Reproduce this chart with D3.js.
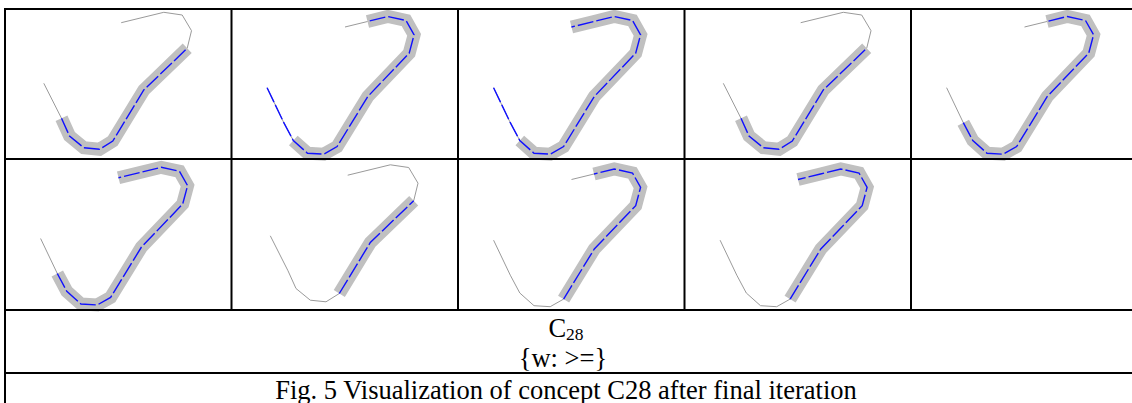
<!DOCTYPE html>
<html>
<head>
<meta charset="utf-8">
<script src="https://cdn.jsdelivr.net/npm/d3@7"></script>
<style>
  body { margin: 0; background: #fff; }
</style>
</head>
<body>
<div id="figure"></div>
<script>
// two curve shapes, points in cell units (a cell is 226.5 x 150)
var curveA = [
  [38.8, 74.3], [56.5, 109.3], [64.5, 127], [78.8, 138.7], [94.5, 140.3],
  [107.8, 132], [138.8, 81], [182.2, 39.3], [186.5, 21.7], [177.2, 6],
  [158.8, 3.3], [116.2, 13.7]
];
var curveB = [
  [35.6, 78.7], [52.3, 113.7], [61.8, 131.5], [76, 144.2], [92.2, 145.2],
  [105.6, 137.6], [136.3, 87.5], [177.7, 44.2], [182.6, 25.8], [174.5, 11.5],
  [156.3, 7.5], [136, 12.5], [113.5, 18]
];

// one entry per cell, row by row (last cell is empty)
var cellCurve = ["A", "B", "B", "A", "B", "B", "A", "B", "B", null];
var bandFrom  = [1, 2, 2, 1, 1, 1, 5, 5, 5, null];
var bandTo    = [7, 11, 12, 7, 11, 12, 7, 11, 12, null];
var blueFrom  = [1, 0, 0, 1, 1, 1, 5, 5, 5, null];
var blueTo    = [7, 11, 12, 7, 11, 12, 7, 11, 12, null];

var conceptName = "C";
var conceptSub = "28";
var conceptRule = "{w: >=}";
var captionText = "Fig. 5 Visualization of concept C28 after final iteration";

// layout
var svgWidth = 1132;
var svgHeight = 403;
var cellW = 226.5, cellH = 150;
var tableLeft = 5;
var rowLines = [9, 159, 310, 373, 420];
var cellShift = [0, 0, 0, 0, 0, 0.8, 2.5, 2.5, 2.5, 0];

var svg = d3.select("#figure")
  .append("svg")
  .attr("width", svgWidth)
  .attr("height", svgHeight);

var colScale = d3.scaleLinear()
  .domain([0, 5])
  .range([tableLeft, tableLeft + 5 * cellW]);

var curves = { A: curveA, B: curveB };

// the curve cells
cellCurve.forEach(function(c, i) {
  if (!c) return;
  var col = i % 5, row = Math.floor(i / 5);
  var x = d3.scaleLinear().domain([0, cellW])
    .range([colScale(col), colScale(col) + cellW]);
  var y = d3.scaleLinear().domain([0, cellH])
    .range([rowLines[row] + cellShift[i], rowLines[row] + cellShift[i] + cellH]);
  var line = d3.line().x(d => x(d[0])).y(d => y(d[1]));
  var pts = curves[c];
  var g = svg.append("g");

  g.append("path")
    .attr("d", line(pts))
    .attr("fill", "none")
    .attr("stroke", "#9a9a9a")
    .attr("stroke-width", 1);

  g.append("path")
    .attr("d", line(pts.slice(bandFrom[i], bandTo[i] + 1)))
    .attr("fill", "none")
    .attr("stroke", "#c0c0c0")
    .attr("stroke-width", 13)
    .attr("stroke-linejoin", "miter")
    .attr("stroke-linecap", "butt");

  g.append("path")
    .attr("d", line(pts.slice(blueFrom[i], blueTo[i] + 1)))
    .attr("fill", "none")
    .attr("stroke", "#1010ff")
    .attr("stroke-width", 1.4)
    .attr("stroke-dasharray", "16,3");
});

// table rules
var hLines = rowLines.slice(0, 4);
svg.selectAll(".hrule")
  .data(hLines)
  .enter()
  .append("line")
  .attr("x1", tableLeft - 1)
  .attr("x2", colScale(5) + 1)
  .attr("y1", d => d)
  .attr("y2", d => d)
  .attr("stroke", "#000")
  .attr("stroke-width", 2);

svg.selectAll(".vrule")
  .data(d3.range(6))
  .enter()
  .append("line")
  .attr("x1", d => colScale(d))
  .attr("x2", d => colScale(d))
  .attr("y1", rowLines[0])
  .attr("y2", d => (d === 0 || d === 5) ? svgHeight : rowLines[2])
  .attr("stroke", "#000")
  .attr("stroke-width", 2);

// text rows
var font = "'Liberation Serif', 'Times New Roman', serif";
var label = svg.append("text")
  .attr("x", 566)
  .attr("y", 337)
  .attr("text-anchor", "middle")
  .attr("font-family", font)
  .attr("font-size", 26.5)
  .attr("fill", "#000");
label.append("tspan").text(conceptName);
label.append("tspan")
  .attr("font-size", 17.5)
  .attr("dy", 3)
  .text(conceptSub);

svg.append("text")
  .attr("x", 563)
  .attr("y", 367)
  .attr("text-anchor", "middle")
  .attr("font-family", font)
  .attr("font-size", 26.5)
  .attr("fill", "#000")
  .text(conceptRule);

svg.append("text")
  .attr("x", 566)
  .attr("y", 399)
  .attr("text-anchor", "middle")
  .attr("font-family", font)
  .attr("font-size", 26.5)
  .attr("fill", "#000")
  .text(captionText);
</script>
</body>
</html>
